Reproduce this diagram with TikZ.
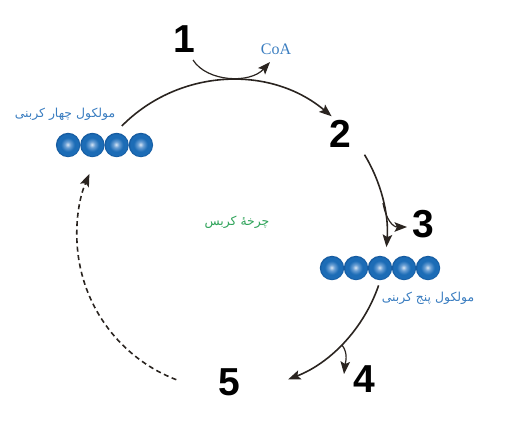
\documentclass[tikz,border=0pt]{standalone}
\usepackage{fontspec}
\setmainfont{Liberation Serif}
\newfontfamily\numfont{Liberation Sans}
\newfontfamily\fafont[Script=Arabic]{DejaVu Sans}
\TeXXeTstate=1
\usetikzlibrary{arrows.meta}
\definecolor{linec}{HTML}{2A2420}
\definecolor{labblue}{HTML}{3A7DC0}
\definecolor{labgreen}{HTML}{2FA35A}
\definecolor{ballhi}{HTML}{D6E5F4}
\definecolor{ballmid}{HTML}{6A9FD4}
\definecolor{ballblue}{HTML}{1C6CB6}
\definecolor{balldark}{HTML}{13569A}
\pgfdeclareradialshading{ballsh}{\pgfpoint{-1bp}{1bp}}{color(0bp)=(ballhi); color(6bp)=(ballmid); color(14bp)=(ballblue); color(21bp)=(ballblue); color(25bp)=(balldark); color(50bp)=(balldark)}
\tikzset{
  ball/.style={circle, minimum size=24.4pt, inner sep=0pt, shading=ballsh},
  num/.style={font=\numfont\bfseries\fontsize{39}{39}\selectfont, inner sep=0pt},
  falabel/.style={font=\fafont\fontsize{12.4}{14}\selectfont, text=labblue, inner sep=0pt},
  tip/.style={-{Stealth[length=12.5pt,width=9.5pt,inset=2.5pt]}},
  mainarr/.style={tip, draw=linec, line width=1.6pt},
  brarr/.style={tip, draw=linec, line width=1.2pt},
}
\begin{document}
\begin{tikzpicture}[x=1pt,y=-1pt]
\useasboundingbox (0,0) rectangle (514,440);
% numbers
\node[num] (n1) at (184,39) {1};
\node[num] (n2) at (340,134) {2};
\node[num] (n3) at (423,224) {3};
\node[num] (n4) at (364,379) {4};
\node[num] (n5) at (229,382) {5};
% labels
\node[font=\fontsize{16}{16}\selectfont, text=labblue, inner sep=0pt] (coa) at (276,49) {CoA};
\node[falabel] (l4) at (65,114) {\beginR مولکول چهار کربنی\endR};
\node[falabel] (l5) at (428,298) {\beginR مولکول پنج کربنی\endR};
\node[falabel, text=labgreen] (lk) at (237,222) {\beginR چرخهٔ کربس\endR};
% balls
\foreach \i/\x in {1/68.1,2/92.4,3/116.6,4/140.9}
  \node[ball] (f\i) at (\x,145) {};
\foreach \i/\x in {1/332,2/356,3/380,4/404,5/428}
  \node[ball] (p\i) at (\x,268) {};
% cycle arcs (center (232,235), r=155)
\coordinate (a1) at (121.8,126);
\coordinate (a2) at (364.5,154.7);
\coordinate (a3) at (378.6,285.4);
\coordinate (a4) at (176.3,379.7);
\draw[mainarr] (a1) arc[start angle=-135.3, end angle=-50, radius=155];
\draw[mainarr] (a2) arc[start angle=-31.2, end angle=4.5, radius=155];
\draw[mainarr] (a3) arc[start angle=19, end angle=68.8, radius=155];
\draw[mainarr, dashed, dash pattern=on 5pt off 3.5pt] (a4) arc[start angle=111, end angle=203.2, radius=155];
% branches
\coordinate (c1) at (193,60);
\coordinate (c2) at (270,62);
\draw[brarr] (c1) .. controls (207,82) and (250,84) .. (c2);
\coordinate (c3) at (383,203);
\coordinate (c4) at (407,227);
\draw[brarr] (c3) .. controls (386,220) and (393,227) .. (c4);
\coordinate (c5) at (342,345);
\coordinate (c6) at (344,374);
\draw[brarr] (c5) .. controls (349,354) and (345,364) .. (c6);
\end{tikzpicture}
\end{document}
